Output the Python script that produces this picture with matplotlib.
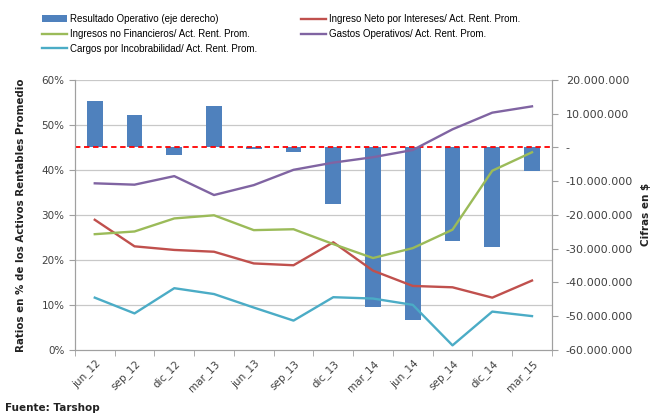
import numpy as np
import matplotlib.pyplot as plt
from matplotlib.ticker import FuncFormatter
from matplotlib.transforms import blended_transform_factory

# datos trimestrales
periodos = ['jun_12', 'sep_12', 'dic_12', 'mar_13', 'jun_13', 'sep_13',
            'dic_13', 'mar_14', 'jun_14', 'sep_14', 'dic_14', 'mar_15']
resultado_operativo = [13.6e6, 9.6e6, -2.2e6, 12.3e6, -0.5e6, -1.5e6,
                       -16.7e6, -47.2e6, -51.1e6, -27.9e6, -29.6e6, -6.9e6]
ingreso_neto = [28.9, 23.0, 22.2, 21.8, 19.2, 18.8, 23.9, 17.6, 14.2, 13.9, 11.6, 15.4]
ingresos_no_fin = [25.7, 26.3, 29.2, 29.9, 26.6, 26.8, 23.5, 20.4, 22.6, 26.7, 39.8, 43.9]
gastos_operativos = [37.0, 36.7, 38.6, 34.4, 36.6, 40.0, 41.6, 42.8, 44.4, 49.0, 52.7, 54.1]
cargos_incob = [11.6, 8.1, 13.7, 12.4, 9.4, 6.5, 11.7, 11.4, 10.0, 1.0, 8.5, 7.5]

pct_ticks = [0, 10, 20, 30, 40, 50, 60]
money_ticks = np.arange(-60e6, 20e6 + 1, 10e6)

gris = '#404040'
plt.rcParams['font.family'] = ['DejaVu Sans']

fig = plt.figure(figsize=(6.57, 4.2), dpi=100)
ax = fig.add_axes([0.114, 0.167, 0.726, 0.643])
ax2 = ax.twinx()
ax.set_zorder(2)
ax2.set_zorder(1)
ax.patch.set_visible(False)

x = np.arange(len(periodos))

ax2.set_ylim(-60e6, 20e6)
ax.set_ylim(0, 60)
ax.set_xlim(-0.5, len(periodos) - 0.5)

# lineas de grilla detras de las barras
trans = blended_transform_factory(ax2.transAxes, ax.transData)
for t in pct_ticks[1:]:
    ax2.plot([0, 1], [t, t], transform=trans, color='#c8c8c8', lw=0.9, zorder=0)

# eje derecho: barras
barras = ax2.bar(x, resultado_operativo, width=0.4, color='#4F81BD', zorder=2,
                 label='Resultado Operativo (eje derecho)')
ax2.axhline(0, color='#FF0000', ls=(0, (3, 2)), lw=1.3, zorder=3)

# eje izquierdo: ratios
l1, = ax.plot(x, ingreso_neto, color='#C0504D', lw=1.7,
              label='Ingreso Neto por Intereses/ Act. Rent. Prom.')
l2, = ax.plot(x, ingresos_no_fin, color='#9BBB59', lw=1.7,
              label='Ingresos no Financieros/ Act. Rent. Prom.')
l3, = ax.plot(x, gastos_operativos, color='#8064A2', lw=1.7,
              label='Gastos Operativos/ Act. Rent. Prom.')
l4, = ax.plot(x, cargos_incob, color='#4BACC6', lw=1.7,
              label='Cargos por Incobrabilidad/ Act. Rent. Prom.')

ax.set_yticks(pct_ticks)
ax.yaxis.set_major_formatter(FuncFormatter(lambda v, p: f'{int(v)}%'))
ax2.set_yticks(money_ticks)


def fmt_money(v, p):
    if abs(v) < 1:
        return '-'
    s = f'{abs(int(round(v))):,}'.replace(',', '.')
    return ('-' if v < 0 else '') + s


ax2.yaxis.set_major_formatter(FuncFormatter(fmt_money))

ax.set_xticks(x)
ax.set_xticklabels(periodos, rotation=45, ha='right', rotation_mode='anchor')
ax.set_xticks(np.arange(-0.5, len(periodos)), minor=True)
ax.tick_params(axis='x', which='major', length=0, pad=6, labelsize=7.5, labelcolor=gris)
ax.tick_params(axis='x', which='minor', length=4, color='#a0a0a0')
ax.tick_params(axis='y', length=4, color='#a0a0a0', labelsize=7.5, labelcolor=gris)
ax2.tick_params(axis='y', length=4, color='#a0a0a0', labelsize=8, labelcolor=gris, pad=6)

for a in (ax, ax2):
    a.spines['top'].set_visible(False)
    for s in ('left', 'right', 'bottom'):
        a.spines[s].set_color('#a0a0a0')

ax.set_ylabel('Ratios en % de los Activos Rentables Promedio', fontsize=7.4,
              fontweight='bold', color='#222222', labelpad=11)
ax2.set_ylabel('Cifras en $', fontsize=7.5, fontweight='bold', color='#222222', labelpad=6)

fig.legend(handles=[barras, l2, l4, l1, l3], ncol=2, loc='upper left',
           bbox_to_anchor=(0.052, 0.985), frameon=False,
           prop={'family': 'Liberation Sans', 'size': 7},
           handlelength=2.6, handletextpad=0.3, labelspacing=0.5,
           columnspacing=4.5, borderaxespad=0.4)

fig.text(0.008, 0.022, 'Fuente: Tarshop', fontsize=7.5, fontweight='bold', color='#222222')

fig.savefig('out.png', dpi=100)
